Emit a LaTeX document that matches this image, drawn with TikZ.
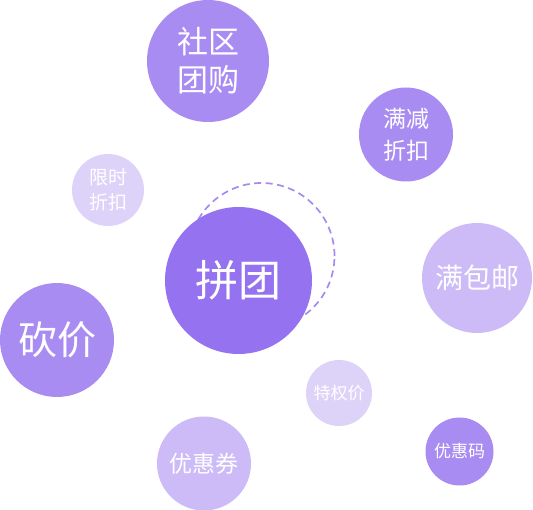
\documentclass[tikz,border=0pt]{standalone}
\usepackage{fontspec}
\setmainfont{Noto Sans CJK SC}
\definecolor{pA}{HTML}{A98CF2}
\definecolor{pB}{HTML}{9572F0}
\definecolor{pL}{HTML}{DDD3F9}
\definecolor{pM}{HTML}{CCBBF6}
\definecolor{dashc}{HTML}{A68AF1}
\tikzset{
  bub/.style={circle, inner sep=0pt, text=white, align=center},
  fs/.style args={#1/#2}{font=\fontsize{#1}{#2}\selectfont},
}
\begin{document}
\begin{tikzpicture}[x=1pt,y=-1pt]
\useasboundingbox (0,0) rectangle (533,510);
\node[draw=dashc, line width=1.7pt, dash pattern=on 7pt off 4.5pt, circle, minimum size=146pt, inner sep=0pt] (ring) at (261.5,256) {};
\node[bub, fill=pA, minimum size=122pt, fs=31/38] (shequ) at (208,61) {社区\\团购};
\node[bub, fill=pA, minimum size=94pt, fs=23/32] (manjian) at (406,134.5) {满减\\折扣};
\node[bub, fill=pL, minimum size=72pt, fs=19/25] (xianshi) at (108,190) {限时\\折扣};
\node[bub, fill=pB, minimum size=147pt, fs=43/50] (pintuan) at (238.5,280.5) {拼团};
\node[bub, fill=pM, minimum size=110pt, fs=28/34] (baoyou) at (477,278) {满包邮};
\node[bub, fill=pA, minimum size=114pt, fs=39/46] (kanjia) at (57,340) {砍价};
\node[bub, fill=pL, minimum size=66pt, fs=17/21] (tequan) at (339,393) {特权价};
\node[bub, fill=pM, minimum size=94pt, fs=23/28] (youhuiquan) at (204,463.5) {优惠券};
\node[bub, fill=pA, minimum size=68pt, fs=17/21] (youhuima) at (459.5,451.5) {优惠码};
\end{tikzpicture}
\end{document}
